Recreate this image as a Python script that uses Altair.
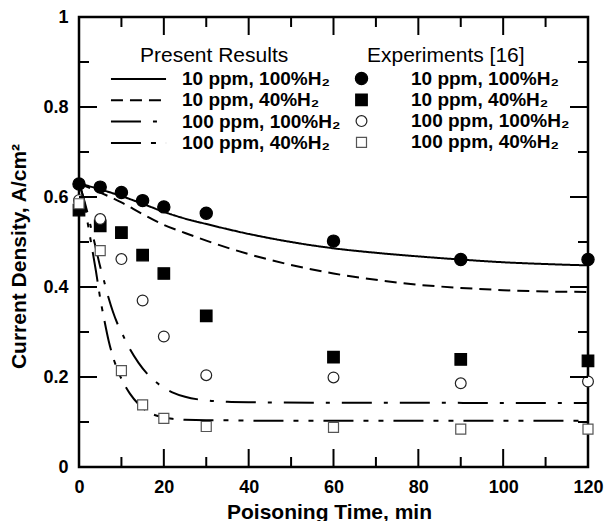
import altair as alt
import pandas as pd
import json

FONT = "Liberation Sans"

# ---------------- data ----------------
model_names = ["10 ppm, 100%H₂", "10 ppm, 40%H₂", "100 ppm, 100%H₂", "100 ppm, 40%H₂"]
exp_codes = ["E1", "E2", "E3", "E4"]

t_slow = [0, 5, 10, 15, 20, 25, 30, 40, 50, 60, 70, 80, 90, 100, 110, 120]
model_10_100 = [0.630, 0.617, 0.602, 0.585, 0.567, 0.552, 0.540, 0.518, 0.500, 0.486,
                0.476, 0.468, 0.461, 0.455, 0.451, 0.448]
model_10_40 = [0.630, 0.610, 0.588, 0.562, 0.538, 0.520, 0.503, 0.473, 0.449, 0.430,
               0.416, 0.405, 0.398, 0.393, 0.390, 0.389]

t_fast = [0, 1, 2, 3, 4, 5, 6, 7, 8, 9, 10, 12, 14, 16, 18, 20, 22, 25, 30, 35, 40,
          60, 80, 100, 120]
model_100_100 = [0.630, 0.600, 0.565, 0.525, 0.485, 0.445, 0.410, 0.375, 0.345, 0.320,
                 0.300, 0.262, 0.232, 0.208, 0.190, 0.176, 0.166, 0.156, 0.148, 0.145,
                 0.144, 0.143, 0.143, 0.142, 0.142]
model_100_40 = [0.630, 0.600, 0.545, 0.490, 0.435, 0.375, 0.325, 0.280, 0.245, 0.218,
                0.196, 0.163, 0.140, 0.124, 0.115, 0.110, 0.107, 0.105, 0.104, 0.104,
                0.103, 0.103, 0.103, 0.103, 0.103]

t_exp = [0, 5, 10, 15, 20, 30, 60, 90, 120]
exp_10_100 = [0.629, 0.622, 0.610, 0.592, 0.578, 0.564, 0.502, 0.461, 0.461]
exp_10_40 = [0.571, 0.536, 0.521, 0.471, 0.430, 0.336, 0.244, 0.239, 0.236]
exp_100_100 = [0.593, 0.551, 0.462, 0.370, 0.290, 0.204, 0.199, 0.186, 0.190]
exp_100_40 = [0.585, 0.481, 0.214, 0.138, 0.108, 0.090, 0.088, 0.084, 0.084]

x_ticks = [0, 20, 40, 60, 80, 100, 120]
y_ticks = [0, 0.2, 0.4, 0.6, 0.8, 1.0]
x_major_inner = [20, 40, 60, 80, 100]
x_minor_inner = [10, 30, 50, 70, 90, 110]
y_major_inner = [0.2, 0.4, 0.6, 0.8]
y_minor_inner = [0.1, 0.3, 0.5, 0.7, 0.9]

# ---------------- tables ----------------
models = pd.concat([
    pd.DataFrame({"t": t_slow, "j": model_10_100, "model": model_names[0]}),
    pd.DataFrame({"t": t_slow, "j": model_10_40, "model": model_names[1]}),
    pd.DataFrame({"t": t_fast, "j": model_100_100, "model": model_names[2]}),
    pd.DataFrame({"t": t_fast, "j": model_100_40, "model": model_names[3]}),
], ignore_index=True)

exps = pd.concat([
    pd.DataFrame({"t": t_exp, "j": exp_10_100, "exp": exp_codes[0]}),
    pd.DataFrame({"t": t_exp, "j": exp_10_40, "exp": exp_codes[1]}),
    pd.DataFrame({"t": t_exp, "j": exp_100_100, "exp": exp_codes[2]}),
    pd.DataFrame({"t": t_exp, "j": exp_100_40, "exp": exp_codes[3]}),
], ignore_index=True)

exp_label_expr = "{}[indexof({}, datum.value)]".format(
    json.dumps(model_names, ensure_ascii=False), json.dumps(exp_codes))

W, H = 509, 450
xscale = alt.Scale(domain=[0, 120], nice=False, zero=False)
yscale = alt.Scale(domain=[0, 1], nice=False, zero=False)

x_axis = alt.Axis(values=x_ticks, format="d", labelFont=FONT, labelFontSize=18,
                  labelFontWeight="bold", labelColor="black", tickSize=0, domain=False,
                  grid=False, labelPadding=11, labelFlush=False, labelOverlap=False,
                  title="Poisoning Time, min", titleFont=FONT, titleFontSize=21,
                  titleFontWeight="bold", titleColor="black", titleX=250, titleY=51,
                  titleBaseline="alphabetic", titleAlign="center")
y_axis = alt.Axis(values=y_ticks, format=".1~f", labelFont=FONT, labelFontSize=18,
                  labelFontWeight="bold", labelColor="black", tickSize=0, domain=False,
                  grid=False, labelPadding=11, labelFlush=False, labelOverlap=False,
                  title="Current Density, A/cm²", titleFont=FONT, titleFontSize=21,
                  titleFontWeight="bold", titleColor="black", titleX=-54, titleY=239,
                  titleBaseline="alphabetic", titleAlign="center", titleAngle=270)

dash_range = [[1, 0], [12, 7], [30, 12, 4, 12], [30, 10, 5, 10, 5, 10]]

# wide horizontal stroke symbol (55 px long at size 324 -> r = 9)
LINE_SYMBOL = "M-3.06,0H3.06"

line_legend = alt.Legend(
    title="Present Results", orient="none", legendX=61, legendY=28, padding=0,
    titleFont=FONT, titleFontSize=21, titleFontWeight="normal", titleColor="black",
    titleAnchor="start", titlePadding=3, titleLimit=400,
    labelFont=FONT, labelFontSize=19, labelFontWeight="bold", labelColor="black",
    labelOffset=33.5, labelLimit=400, symbolType=LINE_SYMBOL, symbolSize=324,
    symbolOffset=-11.5, symbolStrokeWidth=2, symbolStrokeColor="black", rowPadding=1.3)

lines = alt.Chart(models).mark_line(color="black", strokeWidth=2, interpolate="monotone").encode(
    x=alt.X("t:Q", scale=xscale, axis=x_axis),
    y=alt.Y("j:Q", scale=yscale, axis=y_axis),
    strokeDash=alt.StrokeDash("model:N", scale=alt.Scale(domain=model_names, range=dash_range),
                              legend=line_legend),
)

pt_legend = alt.Legend(
    title="Experiments [16]", orient="none", legendX=288, legendY=28, padding=0,
    titleFont=FONT, titleFontSize=21, titleFontWeight="normal", titleColor="black",
    titleAnchor="start", titlePadding=3, titleLimit=400,
    labelFont=FONT, labelFontSize=19, labelFontWeight="bold", labelColor="black",
    labelOffset=40, labelLimit=400, symbolOffset=-15, symbolStrokeWidth=1.2,
    rowPadding=1.3, labelExpr=exp_label_expr)

points = alt.Chart(exps).mark_point(filled=True, opacity=1, strokeWidth=1.2).encode(
    x=alt.X("t:Q", scale=xscale, axis=x_axis),
    y=alt.Y("j:Q", scale=yscale, axis=y_axis),
    shape=alt.Shape("exp:N", scale=alt.Scale(domain=exp_codes,
                    range=["circle", "square", "circle", "square"]), legend=pt_legend),
    fill=alt.Fill("exp:N", scale=alt.Scale(domain=exp_codes,
                  range=["black", "black", "white", "white"]), legend=pt_legend),
    stroke=alt.Stroke("exp:N", scale=alt.Scale(domain=exp_codes,
                      range=["black", "black", "#222222", "#555555"]), legend=pt_legend),
    size=alt.Size("exp:N", scale=alt.Scale(domain=exp_codes,
                  range=[150, 100, 140, 100]), legend=pt_legend),
)


def xticks(vals, length, top):
    df = pd.DataFrame({"t": vals})
    y0 = 0 if top else H
    y1 = length if top else H - length
    return alt.Chart(df).mark_rule(color="black", strokeWidth=2).encode(
        x=alt.X("t:Q", scale=xscale, axis=x_axis),
        y=alt.value(y0), y2=alt.value(y1))


def yticks(vals, length, right):
    df = pd.DataFrame({"j": vals})
    x0 = W if right else 0
    x1 = W - length if right else length
    return alt.Chart(df).mark_rule(color="black", strokeWidth=2).encode(
        y=alt.Y("j:Q", scale=yscale, axis=y_axis),
        x=alt.value(x0), x2=alt.value(x1))


MAJ, MIN = 18, 10
tick_layers = [
    xticks(x_major_inner, MAJ, False), xticks(x_minor_inner, MIN, False),
    xticks(x_major_inner, MAJ, True), xticks(x_minor_inner, MIN, True),
    yticks(y_major_inner, MAJ, False), yticks(y_minor_inner, MIN, False),
    yticks(y_major_inner, MAJ, True), yticks(y_minor_inner, MIN, True),
]

chart = alt.layer(lines, points, *tick_layers).properties(
    width=W, height=H,
    autosize=alt.AutoSizeParams(type="none"),
    padding={"left": 79, "top": 17, "right": 23, "bottom": 54},
    background="white",
).configure_view(stroke="black", strokeWidth=2.5)

chart.save("out.html", embed_options={"renderer": "svg", "actions": False})
